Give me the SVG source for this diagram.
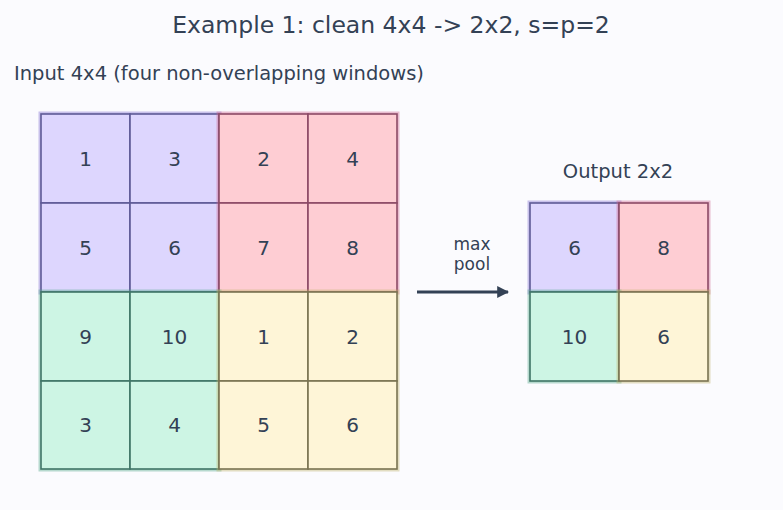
<svg xmlns="http://www.w3.org/2000/svg" width="783" height="510" viewBox="0 0 783 510">
<defs>
<style>
text{font-family:"DejaVu Sans",sans-serif;fill:#334155}
.num{font-size:20px;text-anchor:middle;dominant-baseline:central}
.cell{stroke-width:1.6}
.win{stroke-width:5;stroke-opacity:0.4}
.pur{fill:#ddd6fe}.pur .win{stroke:#7c6cd0}.pur .cell{stroke:#5e5a96}
.red{fill:#fecdd3}.red .win{stroke:#d0608a}.red .cell{stroke:#8c4a66}
.grn{fill:#cdf5e4}.grn .win{stroke:#4fa888}.grn .cell{stroke:#3f7566}
.yel{fill:#fef5d7}.yel .win{stroke:#bdb266}.yel .cell{stroke:#7a7352}
</style>
<marker id="ah" viewBox="0 0 10 10" refX="9" refY="5" markerWidth="4" markerHeight="4" orient="auto"><path d="M0,0 L10,5 L0,10 z" fill="#334155"/></marker>
</defs>
<rect width="783" height="510" fill="#fbfbfe"/>
<text x="391" y="33" font-size="23.5" text-anchor="middle">Example 1: clean 4x4 -&gt; 2x2, s=p=2</text>
<text x="14" y="80" font-size="19.5">Input 4x4 (four non-overlapping windows)</text>
<text x="618" y="178" font-size="19.5" text-anchor="middle">Output 2x2</text>

<g id="win-tl" class="pur">
<rect class="win" x="41" y="114" width="178" height="178"/>
<rect class="cell" x="41" y="114" width="89" height="89"/><rect class="cell" x="130" y="114" width="89" height="89"/>
<rect class="cell" x="41" y="203" width="89" height="89"/><rect class="cell" x="130" y="203" width="89" height="89"/>
<text class="num" x="85.5" y="158.5">1</text><text class="num" x="174.5" y="158.5">3</text>
<text class="num" x="85.5" y="247.5">5</text><text class="num" x="174.5" y="247.5">6</text>
</g>
<g id="win-tr" class="red">
<rect class="win" x="219" y="114" width="178" height="178"/>
<rect class="cell" x="219" y="114" width="89" height="89"/><rect class="cell" x="308" y="114" width="89" height="89"/>
<rect class="cell" x="219" y="203" width="89" height="89"/><rect class="cell" x="308" y="203" width="89" height="89"/>
<text class="num" x="263.5" y="158.5">2</text><text class="num" x="352.5" y="158.5">4</text>
<text class="num" x="263.5" y="247.5">7</text><text class="num" x="352.5" y="247.5">8</text>
</g>
<g id="win-bl" class="grn">
<rect class="win" x="41" y="292" width="178" height="177"/>
<rect class="cell" x="41" y="292" width="89" height="89"/><rect class="cell" x="130" y="292" width="89" height="89"/>
<rect class="cell" x="41" y="381" width="89" height="88"/><rect class="cell" x="130" y="381" width="89" height="88"/>
<text class="num" x="85.5" y="336.5">9</text><text class="num" x="174.5" y="336.5">10</text>
<text class="num" x="85.5" y="425">3</text><text class="num" x="174.5" y="425">4</text>
</g>
<g id="win-br" class="yel">
<rect class="win" x="219" y="292" width="178" height="177"/>
<rect class="cell" x="219" y="292" width="89" height="89"/><rect class="cell" x="308" y="292" width="89" height="89"/>
<rect class="cell" x="219" y="381" width="89" height="88"/><rect class="cell" x="308" y="381" width="89" height="88"/>
<text class="num" x="263.5" y="336.5">1</text><text class="num" x="352.5" y="336.5">2</text>
<text class="num" x="263.5" y="425">5</text><text class="num" x="352.5" y="425">6</text>
</g>

<g id="out-tl" class="pur"><rect class="win" x="530" y="203" width="89" height="89"/><rect class="cell" x="530" y="203" width="89" height="89"/><text class="num" x="574.5" y="247.5">6</text></g>
<g id="out-tr" class="red"><rect class="win" x="619" y="203" width="89" height="89"/><rect class="cell" x="619" y="203" width="89" height="89"/><text class="num" x="663.5" y="247.5">8</text></g>
<g id="out-bl" class="grn"><rect class="win" x="530" y="292" width="89" height="89"/><rect class="cell" x="530" y="292" width="89" height="89"/><text class="num" x="574.5" y="336.5">10</text></g>
<g id="out-br" class="yel"><rect class="win" x="619" y="292" width="89" height="89"/><rect class="cell" x="619" y="292" width="89" height="89"/><text class="num" x="663.5" y="336.5">6</text></g>

<g id="connectors">
<line x1="417" y1="292" x2="508" y2="292" stroke="#334155" stroke-width="3" marker-end="url(#ah)"/>
<text x="472" y="250" font-size="17" text-anchor="middle">max</text>
<text x="472" y="270" font-size="17" text-anchor="middle">pool</text>
</g>
</svg>
